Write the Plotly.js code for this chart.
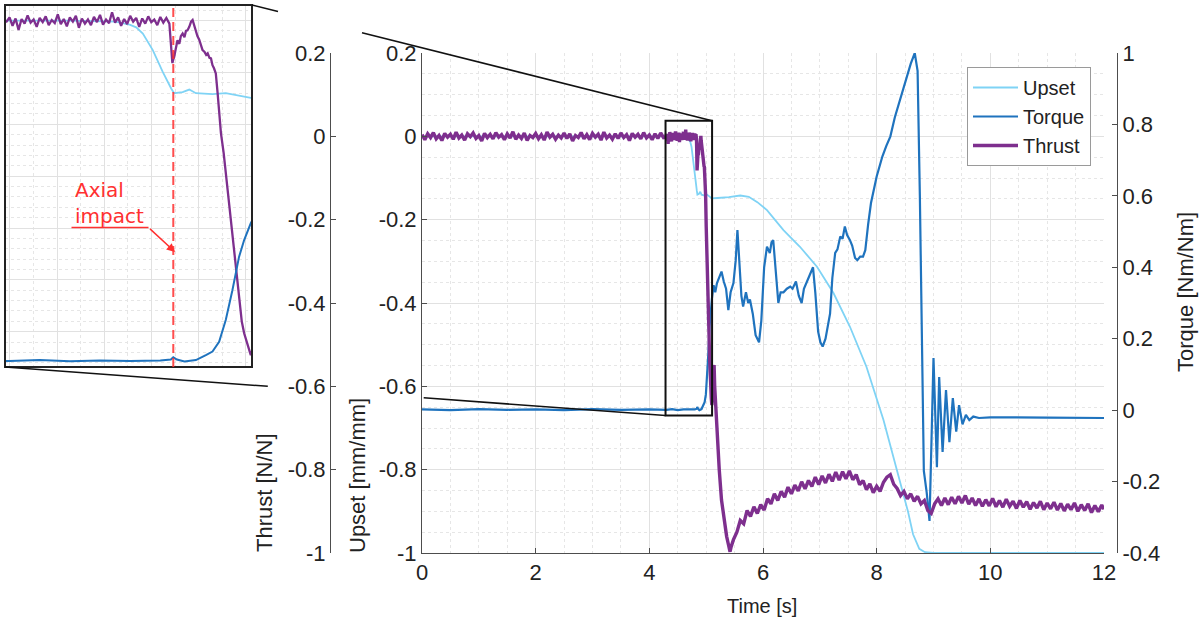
<!DOCTYPE html>
<html>
<head>
<meta charset="utf-8">
<script src="https://cdn.plot.ly/plotly-3.0.1.min.js"></script>
<style>html,body{margin:0;padding:0;background:#fff;}#chart{width:1200px;height:621px;}</style>
</head>
<body>
<div id="chart"></div>
<script>
// ---------------- DATA ----------------
const upsetTime  = [0, 1, 2, 3, 4, 4.5, 4.65, 4.698, 4.72, 4.742, 4.775, 4.808, 4.836, 4.846, 4.874, 4.896, 4.918, 4.973, 5.017, 5.05, 5.1, 5.2, 5.4, 5.6, 5.75, 5.9, 6.07, 6.36, 6.65, 6.95, 7.24, 7.53, 7.82, 8.12, 8.41, 8.55, 8.64, 8.75, 8.85, 9.0, 10, 11, 12];
const upsetValue = [0, 0, 0, 0, 0, 0, -0.002, -0.008, -0.013, -0.025, -0.057, -0.099, -0.131, -0.140, -0.138, -0.133, -0.140, -0.142, -0.140, -0.144, -0.149, -0.148, -0.146, -0.142, -0.145, -0.158, -0.177, -0.225, -0.265, -0.313, -0.376, -0.457, -0.553, -0.681, -0.825, -0.900, -0.955, -0.990, -0.998, -1.0, -1.0, -1.0, -1.0];

const torqueTime  = [0, 0.5, 1, 1.5, 2, 2.5, 3, 3.5, 4, 4.3, 4.4, 4.5, 4.6, 4.7, 4.8, 4.835, 4.843, 4.855, 4.88, 4.918, 4.951, 4.973, 4.995, 5.017, 5.039, 5.061, 5.078, 5.10,
  5.13, 5.16, 5.19, 5.23, 5.27, 5.31, 5.35, 5.39, 5.43, 5.48, 5.52, 5.55, 5.58, 5.62, 5.65, 5.70, 5.74, 5.77, 5.82, 5.87, 5.93, 5.97, 6.02, 6.07, 6.12, 6.15, 6.18, 6.22, 6.27, 6.31, 6.36, 6.42, 6.48, 6.52, 6.58, 6.63, 6.68, 6.72, 6.77, 6.82, 6.88, 6.92, 6.97, 7.01, 7.05, 7.10, 7.14, 7.18, 7.22, 7.27, 7.31, 7.36, 7.40, 7.44, 7.48, 7.53, 7.57, 7.62, 7.66, 7.71, 7.76, 7.80, 7.85, 7.90, 8.00, 8.10, 8.17, 8.24, 8.32, 8.41, 8.50, 8.60, 8.67,
  8.72, 8.76, 8.80, 8.83, 8.88, 8.93, 8.97, 9.00, 9.06, 9.10, 9.16, 9.22, 9.28, 9.34, 9.40, 9.45, 9.51, 9.57, 9.63, 9.70, 9.80, 10, 11, 12];
const torqueValue = [0.002, 0.000, 0.003, 0.001, 0.002, 0.000, 0.003, 0.001, 0.002, 0.001, 0.003, 0.000, 0.002, 0.001, 0.002, 0.004, 0.009, 0.004, 0.000, 0.003, 0.014, 0.022, 0.044, 0.093, 0.160, 0.235, 0.273, 0.311,
  0.35, 0.33, 0.356, 0.37, 0.388, 0.36, 0.34, 0.28, 0.33, 0.356, 0.42, 0.504, 0.42, 0.32, 0.29, 0.33, 0.30, 0.31, 0.27, 0.21, 0.19, 0.25, 0.40, 0.458, 0.44, 0.47, 0.476, 0.40, 0.30, 0.33, 0.33, 0.34, 0.346, 0.34, 0.36, 0.32, 0.30, 0.34, 0.36, 0.38, 0.40, 0.33, 0.22, 0.19, 0.178, 0.20, 0.23, 0.27, 0.37, 0.44, 0.45, 0.486, 0.48, 0.514, 0.49, 0.476, 0.46, 0.426, 0.42, 0.43, 0.43, 0.448, 0.52, 0.58, 0.654, 0.71, 0.74, 0.766, 0.82, 0.868, 0.92, 0.97, 1.0,
  0.95, 0.60, 0.10, -0.17, -0.23, -0.31, -0.05, 0.146, -0.16, 0.093, -0.117, 0.056, -0.09, 0.034, -0.06, 0.014, -0.04, -0.013, -0.028, -0.018, -0.022, -0.020, -0.021, -0.022];

const thrustTimeA  = [0,0.05,0.1,0.15,0.2,0.25,0.3,0.35,0.4,0.45,0.5,0.55,0.6,0.65,0.7,0.75,0.8,0.85,0.9,0.95,1,1.05,1.1,1.15,1.2,1.25,1.3,1.35,1.4,1.45,1.5,1.55,1.6,1.65,1.7,1.75,1.8,1.85,1.9,1.95,2,2.05,2.1,2.15,2.2,2.25,2.3,2.35,2.4,2.45,2.5,2.55,2.6,2.65,2.7,2.75,2.8,2.85,2.9,2.95,3,3.05,3.1,3.15,3.2,3.25,3.3,3.35,3.4,3.45,3.5,3.55,3.6,3.65,3.7,3.75,3.8,3.85,3.9,3.95,4,4.05,4.1,4.15,4.2,4.25];
const thrustValueA = [0.004,-0.008,0.006,-0.003,0.009,-0.006,0.002,-0.010,0.007,-0.002,
  0.005,-0.007,0.010,-0.004,0.003,-0.009,0.006,-0.001,0.008,-0.005,
  0.002,-0.011,0.007,-0.003,0.005,-0.006,0.009,-0.002,0.004,-0.008,
  0.006,-0.004,0.011,-0.007,0.003,-0.005,0.008,-0.010,0.002,-0.003,
  0.007,-0.006,0.004,-0.009,0.010,-0.002,0.005,-0.007,0.003,-0.004,
  0.008,-0.005,0.006,-0.011,0.002,-0.003,0.009,-0.006,0.004,-0.008,
  0.007,-0.002,0.005,-0.009,0.010,-0.004,0.003,-0.007,0.006,-0.005,
  0.008,-0.003,0.004,-0.010,0.007,-0.002,0.005,-0.006,0.009,-0.004,
  0.003,-0.008,0.006,-0.005,0.008,-0.003];
const thrustTimeB  = [4.29,4.30,4.31,4.32,4.33,4.34,4.35,4.36,4.37,4.38,4.39,4.40,4.41,4.42,4.43,4.44,4.45,4.46,4.47,4.48,4.49,4.50,4.51,4.52,4.53,4.54,4.55,4.56,4.57,4.58,4.59,4.60,4.61,4.62,4.63,4.64,4.65,4.66,4.67,4.68,4.69,4.70,4.71,4.72,4.73,4.74,4.75,4.76,4.77,4.78,4.79,4.80,4.81,4.82,4.83];
const thrustValueB = [-0.002,0.006,-0.010,0.004,-0.018,0.003,-0.006,0.010,-0.004,0.002,
  -0.012,0.005,-0.003,0.008,-0.009,0.001,-0.005,0.012,-0.007,0.003,
  -0.011,0.006,-0.002,0.009,-0.014,0.004,-0.006,0.002,-0.009,0.007,
  -0.003,0.011,-0.008,0.002,-0.005,0.016,-0.004,0.006,-0.010,0.003,
  -0.007,0.009,-0.002,0.005,-0.012,0.004,-0.006,0.008,-0.003,0.002,
  -0.009,0.007,-0.004,0.005,-0.006];
const thrustTimeC  = [4.835,4.840,4.843,4.846,4.850,4.857,4.863,4.868,4.874,4.880,4.885,4.890,4.896,4.902,4.907,4.912,4.918,4.923,4.929,4.935,4.940,4.946,4.952,4.957,4.963,4.968,4.973,4.978,4.984,4.990,5.001,5.010,5.019,5.028,5.039,5.050,5.060,5.070,5.078,5.090,5.100,5.115,5.130,5.140,5.150,5.170,5.190,5.230,5.270,5.320,5.360,5.400,5.420,5.440];
const thrustValueC = [-0.040,-0.082,-0.075,-0.070,-0.058,-0.038,-0.045,-0.030,-0.025,-0.032,-0.020,-0.019,-0.012,-0.002,0.001,-0.010,-0.018,-0.030,-0.037,-0.050,-0.057,-0.060,-0.066,-0.063,-0.072,-0.073,-0.086,-0.092,-0.102,-0.140,-0.217,-0.255,-0.305,-0.346,-0.410,-0.475,-0.530,-0.580,-0.603,-0.628,-0.645,-0.620,-0.560,-0.549,-0.600,-0.660,-0.712,-0.800,-0.873,-0.930,-0.960,-0.985,-0.997,-0.985];
const thrustTimeD  = [5.48,5.54,5.60,5.66,5.72,5.78,5.84,5.90,5.96,6.02,6.08,6.14,6.20,6.26,6.32,6.38,6.44,6.50,6.56,6.62,6.68,6.74,6.80,6.86,6.92,6.98,7.04,7.10,7.16,7.22,7.28,7.34,7.40,7.46,7.52,7.58,7.64,7.70,7.76,7.82,7.88,7.94,8.00,8.06,8.12,8.18,8.24,8.30,8.36,8.42,8.48,8.54,8.60,8.66,8.72,8.78,8.84,8.90,8.96,9.02,9.08,9.14,9.20,9.26,9.32,9.38,9.44,9.50,9.56,9.62,9.68,9.74,9.80,9.86,9.92,9.98,10.04,10.10,10.16,10.22,10.28,10.34,10.40,10.46,10.52,10.58,10.64,10.70,10.76,10.82,10.88,10.94,11.00,11.06,11.12,11.18,11.24,11.30,11.36,11.42,11.48,11.54,11.60,11.66,11.72,11.78,11.84,11.90,11.96,12.00];
const thrustValueD = [-0.968,-0.950,-0.922,-0.930,-0.898,-0.912,-0.889,-0.905,-0.884,-0.897,-0.870,-0.882,-0.858,-0.874,-0.852,-0.866,-0.842,-0.858,-0.837,-0.851,-0.829,-0.846,-0.826,-0.840,-0.818,-0.836,-0.815,-0.832,-0.811,-0.828,-0.806,-0.825,-0.805,-0.822,-0.803,-0.824,-0.812,-0.836,-0.826,-0.848,-0.834,-0.855,-0.840,-0.852,-0.830,-0.818,-0.812,-0.835,-0.845,-0.862,-0.852,-0.870,-0.858,-0.876,-0.864,-0.882,-0.874,-0.898,-0.905,-0.882,-0.870,-0.886,-0.868,-0.884,-0.866,-0.882,-0.864,-0.880,-0.862,-0.883,-0.868,-0.886,-0.870,-0.888,-0.872,-0.887,-0.869,-0.889,-0.874,-0.890,-0.871,-0.888,-0.876,-0.893,-0.874,-0.890,-0.877,-0.895,-0.879,-0.892,-0.876,-0.896,-0.880,-0.894,-0.878,-0.897,-0.881,-0.899,-0.883,-0.896,-0.880,-0.900,-0.884,-0.898,-0.882,-0.903,-0.886,-0.901,-0.885,-0.895];

const thrustTime  = thrustTimeA.concat(thrustTimeB, thrustTimeC, thrustTimeD);
const thrustValue = thrustValueA.concat(thrustValueB, thrustValueC, thrustValueD);

const seriesNames = ['Upset', 'Torque', 'Thrust'];
const leftTicks     = [-1, -0.8, -0.6, -0.4, -0.2, 0, 0.2];
const leftTickText  = ['-1', '-0.8', '-0.6', '-0.4', '-0.2', '0', '0.2'];
const torqueTicks    = [-0.4, -0.2, 0, 0.2, 0.4, 0.6, 0.8, 1];
const torqueTickText = ['-0.4', '-0.2', '0', '0.2', '0.4', '0.6', '0.8', '1'];
const timeTicks = [0, 2, 4, 6, 8, 10, 12];

const zoomWindow = {t0: 4.285, t1: 5.104, u0: -0.670, u1: 0.0375};
const impactTime = 4.843;

// ---------------- STYLE / LAYOUT ----------------
const FONT = 'Liberation Sans, Arial, Helvetica, sans-serif';
const C_UPSET = '#7fd3f5', C_TORQUE = '#1f73be', C_THRUST = '#7e2f8e', C_RED = '#ff3030';
const ML = 5, MR = 83, MT = 5, MB = 68, W = 1200, H = 621;
const PW = W - ML - MR, PH = H - MT - MB;
const pxX = px => (px - ML) / PW;
const pxY = py => (H - MB - py) / PH;

const xDom = [pxX(422), pxX(1104)];
const yDom = [0, pxY(53)];
const insetXDom = [0, pxX(252)];
const insetYDom = [pxY(367), 1];
const insetURange = [-0.668, 0.03];
const toTorque = u => (u + 1) * (1.4 / 1.2) - 0.4;
const insetTRange = [toTorque(insetURange[0]), toTorque(insetURange[1])];

const axisLine = '#4d4d4d';
const gridC = '#e1e1e1', minorC = '#e6e6e6';

const traces = [
  {x: upsetTime, y: upsetValue, name: seriesNames[0], type: 'scatter', mode: 'lines', xaxis: 'x', yaxis: 'y', line: {color: C_UPSET, width: 1.8}},
  {x: torqueTime, y: torqueValue, name: seriesNames[1], type: 'scatter', mode: 'lines', xaxis: 'x', yaxis: 'y3', line: {color: C_TORQUE, width: 2.2}},
  {x: thrustTime, y: thrustValue, name: seriesNames[2], type: 'scatter', mode: 'lines', xaxis: 'x', yaxis: 'y4', line: {color: C_THRUST, width: 3.4}},
  {x: upsetTime, y: upsetValue, showlegend: false, type: 'scatter', mode: 'lines', xaxis: 'x2', yaxis: 'y2', line: {color: C_UPSET, width: 1.8}},
  {x: torqueTime, y: torqueValue, showlegend: false, type: 'scatter', mode: 'lines', xaxis: 'x2', yaxis: 'y5', line: {color: C_TORQUE, width: 2}},
  {x: thrustTime, y: thrustValue, showlegend: false, type: 'scatter', mode: 'lines', xaxis: 'x2', yaxis: 'y2', line: {color: C_THRUST, width: 2.3}}
];

// connector lines from inset to zoom rectangle
const dX = t => xDom[0] + (t / 12) * (xDom[1] - xDom[0]);
const dY = u => yDom[0] + ((u + 1) / 1.2) * (yDom[1] - yDom[0]);
function seg(a, b, f0, f1) {
  return {type: 'line', xref: 'paper', yref: 'paper', layer: 'above',
    x0: a[0] + (b[0] - a[0]) * f0, y0: a[1] + (b[1] - a[1]) * f0,
    x1: a[0] + (b[0] - a[0]) * f1, y1: a[1] + (b[1] - a[1]) * f1,
    line: {color: '#111', width: 1.6}};
}
const topA = [insetXDom[1], 1], topB = [dX(zoomWindow.t1), dY(zoomWindow.u1)];
const botA = [insetXDom[0], insetYDom[0]], botB = [dX(zoomWindow.t0), dY(zoomWindow.u0)];
const topSpan = 712 - 252, botSpan = 666 - 5;

const shapes = [
  {type: 'rect', xref: 'x', yref: 'y', x0: zoomWindow.t0, x1: zoomWindow.t1, y0: zoomWindow.u0, y1: zoomWindow.u1, line: {color: '#111', width: 2}, layer: 'above'},
  {type: 'rect', xref: 'paper', yref: 'paper', x0: insetXDom[0], x1: insetXDom[1], y0: insetYDom[0], y1: insetYDom[1], line: {color: '#222', width: 2}, layer: 'above'},
  {type: 'line', xref: 'x2', yref: 'paper', x0: impactTime, x1: impactTime, y0: insetYDom[0], y1: insetYDom[1], line: {color: C_RED, width: 2, dash: '9px,5px'}, opacity: 0.85, layer: 'above'},
  seg(topA, topB, 0, (278 - 252) / topSpan),
  seg(topA, topB, (362 - 252) / topSpan, 1),
  seg(botA, botB, 0, (268 - 5) / botSpan),
  seg(botA, botB, (424 - 5) / botSpan, 1),
  {type: 'line', xref: 'paper', yref: 'paper', x0: pxX(71.5), x1: pxX(148.5), y0: pxY(227.5), y1: pxY(227.5), line: {color: C_RED, width: 1.5}, layer: 'above'}
];

const annotations = [
  {text: 'Axial<br>impact', xref: 'paper', yref: 'paper', x: pxX(73), y: pxY(203), xanchor: 'left', yanchor: 'middle', align: 'left', showarrow: false, font: {family: 'DejaVu Sans, sans-serif', size: 20, color: C_RED}},
  {text: '', xref: 'paper', yref: 'paper', x: pxX(175), y: pxY(252), showarrow: true, axref: 'pixel', ayref: 'pixel', ax: -26.5, ay: -24.5, arrowcolor: C_RED, arrowwidth: 1.5, arrowhead: 2, arrowsize: 1.1, standoff: 0},
  {text: 'Time [s]', xref: 'paper', yref: 'paper', x: pxX(762), y: pxY(606), xanchor: 'center', yanchor: 'middle', showarrow: false, font: {family: FONT, size: 20, color: '#222'}},
  {text: 'Thrust [N/N]', xref: 'paper', yref: 'paper', x: pxX(264), y: pxY(493), xanchor: 'center', yanchor: 'middle', textangle: -90, showarrow: false, font: {family: FONT, size: 22, color: '#222'}},
  {text: 'Upset [mm/mm]', xref: 'paper', yref: 'paper', x: pxX(357), y: pxY(476), xanchor: 'center', yanchor: 'middle', textangle: -90, showarrow: false, font: {family: FONT, size: 22, color: '#222'}},
  {text: 'Torque [Nm/Nm]', xref: 'paper', yref: 'paper', x: pxX(1186), y: pxY(292), xanchor: 'center', yanchor: 'middle', textangle: -90, showarrow: false, font: {family: FONT, size: 22, color: '#222'}}
];

const tickFont = {family: FONT, size: 22, color: '#222'};

const layout = {
  width: W, height: H,
  margin: {l: ML, r: MR, t: MT, b: MB, pad: 0},
  paper_bgcolor: '#ffffff', plot_bgcolor: '#ffffff',
  font: {family: FONT, size: 20, color: '#222'},
  showlegend: true,
  legend: {x: pxX(967), y: pxY(67), xanchor: 'left', yanchor: 'top', bgcolor: '#ffffff', bordercolor: '#9a9a9a', borderwidth: 1, font: {family: FONT, size: 20, color: '#222'}, tracegroupgap: 0, itemwidth: 45},
  xaxis: {domain: xDom, anchor: 'y', range: [0, 12], tickmode: 'array', tickvals: timeTicks, ticks: 'inside', ticklen: 5, tickcolor: axisLine,
    showline: true, linecolor: axisLine, linewidth: 1, showgrid: true, gridcolor: gridC, gridwidth: 1, zeroline: false, tickfont: tickFont,
    minor: {dtick: 0.5, tick0: 0, showgrid: true, gridcolor: minorC, griddash: 'dot', ticks: ''}},
  yaxis: {domain: yDom, anchor: 'x', range: [-1, 0.2], tickmode: 'array', tickvals: leftTicks, ticktext: leftTickText, ticks: 'inside', ticklen: 5, tickcolor: axisLine,
    showline: true, linecolor: axisLine, linewidth: 1, showgrid: true, gridcolor: gridC, gridwidth: 1, zeroline: false, tickfont: tickFont,
    minor: {dtick: 0.05, tick0: 0, showgrid: true, gridcolor: minorC, griddash: 'dot', ticks: ''}},
  yaxis3: {overlaying: 'y', side: 'right', anchor: 'free', position: 1, range: [-0.4, 1], tickmode: 'array', tickvals: torqueTicks, ticktext: torqueTickText,
    ticks: 'inside', ticklen: 5, tickcolor: axisLine, showline: true, linecolor: axisLine, linewidth: 1, showgrid: false, zeroline: false, tickfont: tickFont},
  yaxis4: {overlaying: 'y', side: 'left', anchor: 'free', position: pxX(330), range: [-1, 0.2], tickmode: 'array', tickvals: leftTicks, ticktext: leftTickText,
    ticks: 'inside', ticklen: 5, tickcolor: axisLine, showline: true, linecolor: axisLine, linewidth: 1, showgrid: false, zeroline: false, tickfont: tickFont},
  xaxis2: {domain: insetXDom, anchor: 'y2', range: [zoomWindow.t0, zoomWindow.t1], showticklabels: false, ticks: '', tick0: 4.3015, dtick: 0.1565,
    showgrid: true, gridcolor: gridC, zeroline: false, showline: false,
    minor: {tick0: 4.3015, dtick: 0.07825, showgrid: true, gridcolor: minorC, griddash: 'dot', ticks: ''}},
  yaxis2: {domain: insetYDom, anchor: 'x2', range: insetURange, showticklabels: false, ticks: '', tick0: 0, dtick: 0.1,
    showgrid: true, gridcolor: gridC, zeroline: false, showline: false,
    minor: {tick0: 0, dtick: 0.02, showgrid: true, gridcolor: minorC, griddash: 'dot', ticks: ''}},
  yaxis5: {overlaying: 'y2', anchor: 'x2', range: insetTRange, visible: false, showgrid: false, zeroline: false},
  shapes: shapes,
  annotations: annotations
};

Plotly.newPlot('chart', traces, layout, {staticPlot: true, displayModeBar: false});
</script>
</body>
</html>
